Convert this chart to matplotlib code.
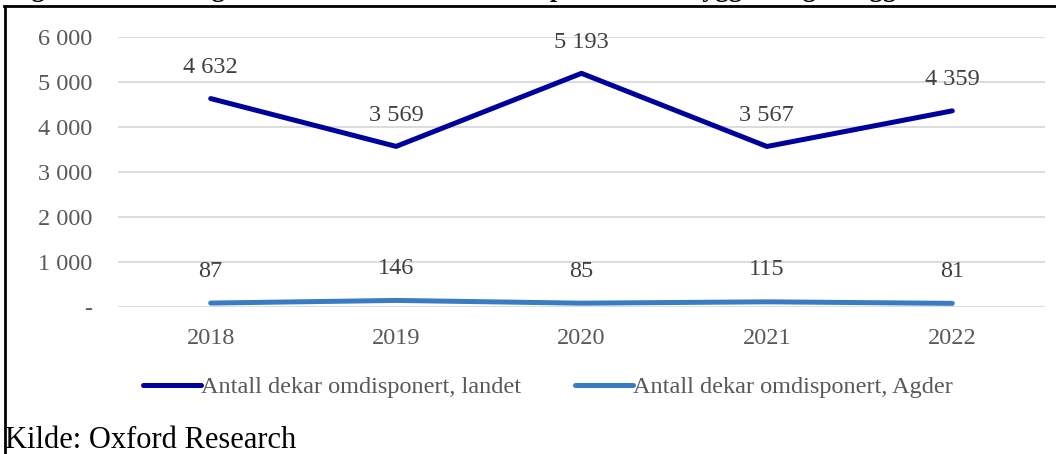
import matplotlib
matplotlib.use("Agg")
import matplotlib.pyplot as plt
from matplotlib.lines import Line2D

years = ["2018", "2019", "2020", "2021", "2022"]
landet = [4632, 3569, 5193, 3567, 4359]
agder = [87, 146, 85, 115, 81]
landet_labels = ["4 632", "3 569", "5 193", "3 567", "4 359"]
agder_labels = ["87", "146", "85", "115", "81"]
yticks = [0, 1000, 2000, 3000, 4000, 5000, 6000]
ytick_labels = ["-", "1 000", "2 000", "3 000", "4 000", "5 000", "6 000"]
series_names = ["Antall dekar omdisponert, landet", "Antall dekar omdisponert, Agder"]

plt.rcParams['font.family'] = ['Liberation Serif', 'DejaVu Serif']

W, H = 1056, 454
fig = plt.figure(figsize=(W / 100, H / 100), dpi=100)

def fx(px): return px / W
def fy(py): return 1 - py / H

FS = 17.5
# axes: x from 118 to 1045, y 0 at 307, 6000 at 37
ax = fig.add_axes([fx(118), fy(307), fx(1045 - 118), (307 - 37) / H])
x = list(range(len(years)))
c1 = "#00009C"
c2 = "#3A7CC4"
ax.plot(x, landet, color=c1, lw=3.6, solid_capstyle='round', zorder=3)
ax.plot(x, agder, color=c2, lw=3.6, solid_capstyle='round', zorder=3)
ax.set_xlim(-0.5, len(years) - 0.5)
ax.set_ylim(0, 6000)
ax.set_yticks(yticks)
ax.set_yticklabels(ytick_labels)
ax.set_xticks(x)
ax.set_xticklabels(years)
ax.tick_params(length=0, labelsize=FS, colors="#595959")
ax.tick_params(axis='y', pad=18.5)
ax.tick_params(axis='x', pad=15)
for s in ax.spines.values():
    s.set_visible(False)
ax.grid(axis='y', color="#D9D9D9", lw=1.3)
ax.set_axisbelow(True)
for xi, v, lab in zip(x, landet, landet_labels):
    ax.annotate(lab, (xi, v), xytext=(0, 22.5), textcoords='offset points',
                ha='center', va='center', fontsize=FS, color="#404040")
for xi, v, lab in zip(x, agder, agder_labels):
    ax.annotate(lab, (xi, v), xytext=(0, 23), textcoords='offset points',
                ha='center', va='center', fontsize=FS, color="#404040")

handles = [Line2D([], [], color=c1, lw=3.6, solid_capstyle='round'),
           Line2D([], [], color=c2, lw=3.6, solid_capstyle='round')]
fig.legend(handles, series_names, loc='center', bbox_to_anchor=(fx(548), fy(387)),
           ncol=2, frameon=False, fontsize=FS, labelcolor="#595959",
           handlelength=2.4, handletextpad=0.0, columnspacing=2.2)

fig.text(fx(5), fy(440), "Kilde: Oxford Research", ha='left', va='center',
         fontsize=22, color="black")

# partially cut-off figure title at the very top
fig.text(fx(8), fy(-10), "Figur 14: Utvikling over tid i antall dekar omdisponert til bebyggelse og anlegg",
         ha='left', va='center', fontsize=19, fontweight='bold', color="black")

# border lines (left and top)
fig.add_artist(Line2D([fx(5), fx(5)], [fy(6), 0], color='black', lw=2, transform=fig.transFigure))
fig.add_artist(Line2D([fx(4), 1], [fy(6), fy(6)], color='black', lw=2, transform=fig.transFigure))

fig.savefig("out.png", dpi=100)
